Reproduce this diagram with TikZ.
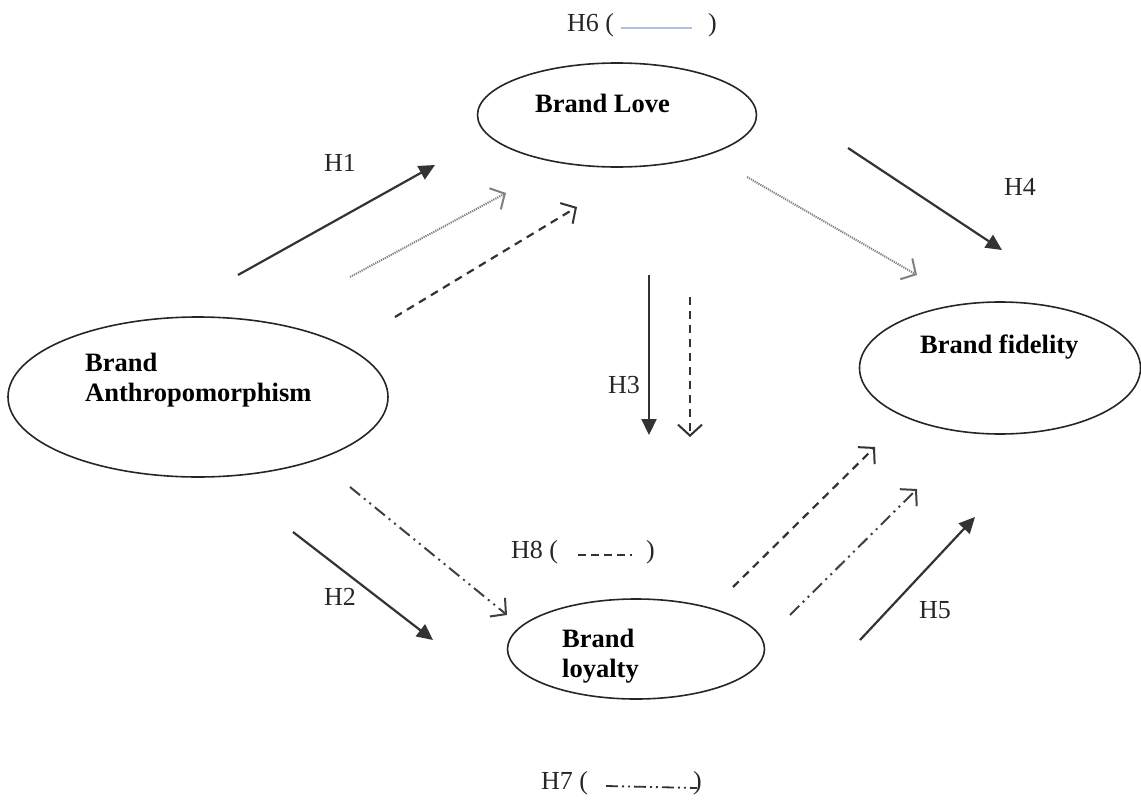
\documentclass[tikz,border=0pt]{standalone}
\usepackage{fontspec}
\setmainfont{Liberation Serif}
\usetikzlibrary{arrows.meta,shapes.geometric}
\definecolor{lightblue}{RGB}{170,195,225}
\begin{document}
\begin{tikzpicture}[x=1pt,y=-1pt,
  oval/.style={draw=black!85,line width=1.6pt,ellipse,inner sep=0pt},
  ntext/.style={font=\fontsize{26.5}{30}\selectfont\bfseries,inner sep=0pt,align=left},
  lab/.style={font=\fontsize{26}{30}\selectfont,inner sep=0pt,text=black!85},
  solidarr/.style={draw=black!80,line width=2.2pt,-{Triangle[length=16pt,width=15pt]}},
  openhead/.style={-{Straight Barb[length=11pt,width=24pt,line width=2pt]}},
  dotarr/.style={openhead,draw=black!50,line width=2pt,dash pattern=on 1.2pt off 1pt},
  dasharr/.style={openhead,draw=black!80,line width=2.2pt,dash pattern=on 8pt off 6pt},
  ddarr/.style={openhead,draw=black!75,line width=2pt,dash pattern=on 13pt off 5pt on 2pt off 5pt on 2pt off 5pt}
]
\useasboundingbox (0,0) rectangle (1141,803);
% ellipses
\node[oval,minimum width=380pt,minimum height=160pt] (anthro) at (198,397) {};
\node[oval,minimum width=279pt,minimum height=104pt] (love) at (617,115) {};
\node[oval,minimum width=281pt,minimum height=132pt] (fid) at (1000,368) {};
\node[oval,minimum width=257pt,minimum height=100pt] (loy) at (636,649) {};
% node texts
\node[ntext,anchor=west] (tanthro) at (85,380) {Brand\\Anthropomorphism};
\node[ntext,anchor=west] (tlove) at (535,103) {Brand Love};
\node[ntext,anchor=west] (tfid) at (920,347) {Brand fidelity};
\node[ntext,anchor=west] (tloy) at (562,656) {Brand\\loyalty};
% labels
\node[lab,anchor=west] (h6) at (567,25) {H6 (};
\node[lab,anchor=west] (h6r) at (708,25) {)};
\coordinate (h6a) at (621,28);
\coordinate (h6b) at (692,28);
\draw[draw=lightblue,line width=2pt] (h6a) -- (h6b);
\node[lab] (h1) at (340,163) {H1};
\node[lab] (h4) at (1020,187) {H4};
\node[lab] (h3) at (624,385) {H3};
\node[lab] (h2) at (340,597) {H2};
\node[lab] (h5) at (935,610) {H5};
\node[lab,anchor=west] (h8) at (511,552) {H8 (};
\node[lab,anchor=west] (h8r) at (646,552) {)};
\coordinate (h8a) at (578,555);
\coordinate (h8b) at (636,555);
\draw[draw=black!80,line width=1.6pt,dash pattern=on 8pt off 5pt on 8pt off 5pt on 8pt off 5pt on 8pt off 5pt on 2pt off 20pt] (h8a) -- (h8b);
\node[lab,anchor=west] (h7) at (541,783) {H7 (};
\node[lab,anchor=west] (h7r) at (693,783) {)};
\coordinate (h7a) at (606,786);
\coordinate (h7b) at (697,788);
\draw[draw=black!80,line width=1.8pt,dash pattern=on 12pt off 4pt on 2pt off 4pt on 2pt off 4pt] (h7a) -- (h7b);
% arrow end points
\coordinate (a1s) at (238,275); \coordinate (a1e) at (435,165);
\coordinate (a6s) at (350,277); \coordinate (a6e) at (506,193);
\coordinate (a8s) at (395,317); \coordinate (a8e) at (577,207);
\coordinate (a4s) at (848,148); \coordinate (a4e) at (1002,250);
\coordinate (b6s) at (747,177); \coordinate (b6e) at (917,275);
\coordinate (a3s) at (649,275); \coordinate (a3e) at (649,435);
\coordinate (b8s) at (690,297); \coordinate (b8e) at (690,437);
\coordinate (a2s) at (293,532); \coordinate (a2e) at (433,640);
\coordinate (a7s) at (350,487); \coordinate (a7e) at (507,615);
\coordinate (c8s) at (733,587); \coordinate (c8e) at (875,447);
\coordinate (b7s) at (790,615); \coordinate (b7e) at (917,489);
\coordinate (a5s) at (860,640); \coordinate (a5e) at (975,517);
% arrows
\draw[solidarr] (a1s) -- (a1e);
\draw[dotarr] (a6s) -- (a6e);
\draw[dasharr] (a8s) -- (a8e);
\draw[solidarr] (a4s) -- (a4e);
\draw[dotarr] (b6s) -- (b6e);
\draw[solidarr] (a3s) -- (a3e);
\draw[dasharr] (b8s) -- (b8e);
\draw[solidarr] (a2s) -- (a2e);
\draw[ddarr] (a7s) -- (a7e);
\draw[dasharr] (c8s) -- (c8e);
\draw[ddarr] (b7s) -- (b7e);
\draw[solidarr] (a5s) -- (a5e);
\end{tikzpicture}
\end{document}
